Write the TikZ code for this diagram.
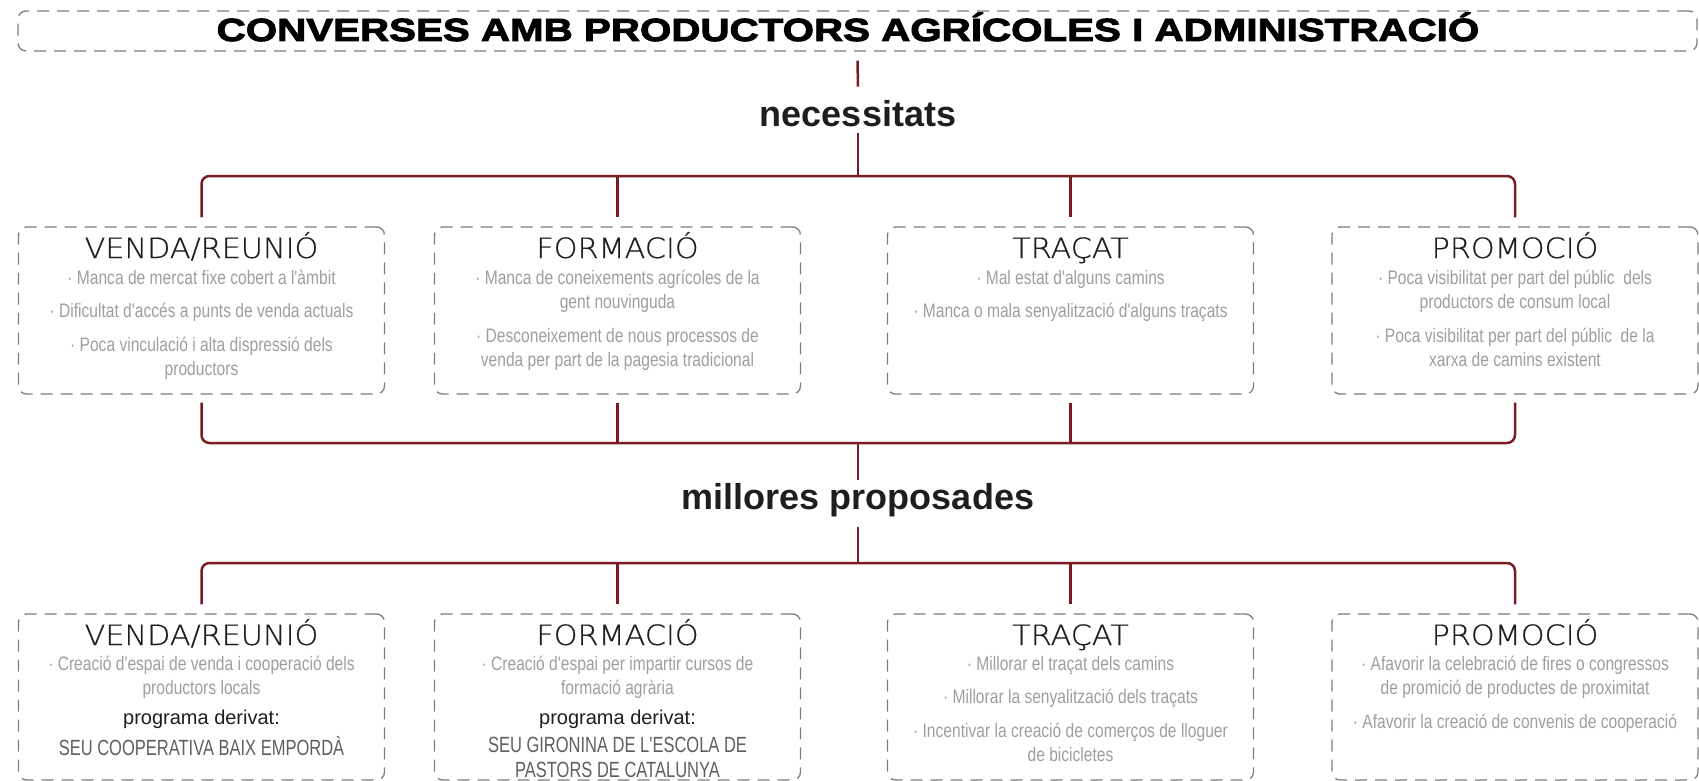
\documentclass[tikz,border=0pt]{standalone}
\usepackage{fontspec}
\setmainfont{Liberation Sans}
\newfontfamily\condf[FakeStretch=0.8]{Liberation Sans}
\newfontfamily\seuf[FakeStretch=0.75]{Liberation Sans}
\newfontfamily\heavyf[FakeStretch=1.26,FakeBold=3]{Liberation Sans Bold}
\newfontfamily\boldf{Liberation Sans Bold}
\IfFontExistsTF{DejaVu Sans ExtraLight}{\newfontfamily\lightf[FakeStretch=1.08,FakeBold=0.6]{DejaVu Sans ExtraLight}}{\newfontfamily\lightf[FakeStretch=1.08]{Liberation Sans}}
\definecolor{conncol}{RGB}{122,28,34}
\definecolor{boxgray}{RGB}{125,125,125}
\definecolor{hdrcol}{RGB}{30,30,30}
\definecolor{bodycol}{RGB}{158,158,158}
\definecolor{seucol}{RGB}{95,95,95}
\begin{document}
\begin{tikzpicture}[x=1pt,y=-1pt,
  conn/.style={draw=conncol, line width=2.5pt},
  dbox/.style={draw=boxgray, line width=1.3pt, dash pattern=on 12pt off 8pt, rounded corners=8pt, inner sep=0pt},
  rowbox/.style={dbox, minimum width=366pt, minimum height=167pt},
  ttlf/.style={font=\heavyf\fontsize{32}{34}\selectfont, text=black, anchor=base, inner sep=0pt},
  secf/.style={font=\boldf\fontsize{36}{40}\selectfont, text=hdrcol, anchor=base, inner sep=0pt},
  hdr/.style={font=\lightf\fontsize{28}{30}\selectfont, text=hdrcol, anchor=base, inner sep=0pt},
  body/.style={font=\condf\fontsize{19.5}{24.5}\selectfont, text=bodycol, align=center, anchor=north, inner sep=0pt},
  prog/.style={font=\fontsize{20}{24}\selectfont, text=hdrcol, anchor=base, inner sep=0pt},
  seu/.style={font=\seuf\fontsize{22}{25}\selectfont, text=seucol, align=center, anchor=north, inner sep=0pt}
]
\useasboundingbox (0,0) rectangle (1699,781);

% title
\node[dbox, minimum width=1679pt, minimum height=40pt] (title) at (857.5,31) {};
\node[ttlf] (ttl) at (848,41) {CONVERSES AMB PRODUCTORS AGRÍCOLES I ADMINISTRACIÓ};

\node[secf] (nec) at (858,127) {necessitats};
\node[secf] (mil) at (858,509) {millores proposades};

\coordinate (bar1) at (858,176);
\coordinate (bar2) at (858,443);
\coordinate (bar3) at (858,563);

% row 1 boxes
\node[rowbox] (v1) at (201.5,310.5) {};
\node[rowbox] (f1) at (617.5,310.5) {};
\node[rowbox] (t1) at (1070.5,310.5) {};
\node[rowbox] (p1) at (1515,310.5) {};
% row 2 boxes
\node[rowbox, minimum height=166pt] (v2) at (201.5,697) {};
\node[rowbox, minimum height=166pt] (f2) at (617.5,697) {};
\node[rowbox, minimum height=166pt] (t2) at (1070.5,697) {};
\node[rowbox, minimum height=166pt] (p2) at (1515,697) {};

% connectors
\draw[conn] ([yshift=-9pt]title.south) -- ([yshift=14pt]nec.north);
\draw[conn] ([yshift=-5pt]nec.south) -- (bar1);
\draw[conn, rounded corners=8pt] ([yshift=9pt]v1.north) |- (bar1) -| ([yshift=9pt]p1.north);
\draw[conn] ([yshift=9pt]f1.north) -- (f1.north |- bar1);
\draw[conn] ([yshift=9pt]t1.north) -- (t1.north |- bar1);

\draw[conn, rounded corners=8pt] ([yshift=-8pt]v1.south) |- (bar2) -| ([yshift=-8pt]p1.south);
\draw[conn] ([yshift=-8pt]f1.south) -- (f1.south |- bar2);
\draw[conn] ([yshift=-8pt]t1.south) -- (t1.south |- bar2);
\draw[conn] (bar2) -- ([yshift=3pt]mil.north);
\draw[conn] ([yshift=-10pt]mil.south) -- (bar3);

\draw[conn, rounded corners=8pt] ([yshift=9pt]v2.north) |- (bar3) -| ([yshift=9pt]p2.north);
\draw[conn] ([yshift=9pt]f2.north) -- (f2.north |- bar3);
\draw[conn] ([yshift=9pt]t2.north) -- (t2.north |- bar3);

% row 1 texts
\node[hdr] (v1h) at (201.5,258) {VENDA/REUNIÓ};
\node[hdr] (f1h) at (617.5,258) {FORMACIÓ};
\node[hdr] (t1h) at (1070.5,258) {TRAÇAT};
\node[hdr] (p1h) at (1515,258) {PROMOCIÓ};

\node[body] (v1b) at (201.5,268) {\rule{0pt}{16pt}· Manca de mercat fixe cobert a l'àmbit\\[9pt]
  · Dificultat d'accés a punts de venda actuals\\[9pt]
  · Poca vinculació i alta dispressió dels\\productors};
\node[body] (f1b) at (617.5,268) {\rule{0pt}{16pt}· Manca de coneixements agrícoles de la\\gent nouvinguda\\[9pt]
  · Desconeixement de nous processos de\\venda per part de la pagesia tradicional};
\node[body] (t1b) at (1070.5,268) {\rule{0pt}{16pt}· Mal estat d'alguns camins\\[9pt]
  · Manca o mala senyalització d'alguns traçats};
\node[body] (p1b) at (1515,268) {\rule{0pt}{16pt}· Poca visibilitat per part del públic~ dels\\productors de consum local\\[9pt]
  · Poca visibilitat per part del públic~ de la\\xarxa de camins existent};

% row 2 texts
\node[hdr] (v2h) at (201.5,645) {VENDA/REUNIÓ};
\node[hdr] (f2h) at (617.5,645) {FORMACIÓ};
\node[hdr] (t2h) at (1070.5,645) {TRAÇAT};
\node[hdr] (p2h) at (1515,645) {PROMOCIÓ};

\node[body] (v2b) at (201.5,654) {\rule{0pt}{16pt}· Creació d'espai de venda i cooperació dels\\productors locals};
\node[prog] (v2p) at (201.5,724) {programa derivat:};
\node[seu] (v2s) at (201.5,736) {\rule{0pt}{16pt}SEU COOPERATIVA BAIX EMPORDÀ};

\node[body] (f2b) at (617.5,654) {\rule{0pt}{16pt}· Creació d'espai per impartir cursos de\\formació agrària};
\node[prog] (f2p) at (617.5,724) {programa derivat:};
\node[seu] (f2s) at (617.5,736) {\rule{0pt}{16pt}SEU GIRONINA DE L'ESCOLA DE\\PASTORS DE CATALUNYA};

\node[body] (t2b) at (1070.5,654) {\rule{0pt}{16pt}· Millorar el traçat dels camins\\[9pt]
  · Millorar la senyalització dels traçats\\[9pt]
  · Incentivar la creació de comerços de lloguer\\de bicicletes};

\node[body] (p2b) at (1515,654) {\rule{0pt}{16pt}· Afavorir la celebració de fires o congressos\\de promició de productes de proximitat\\[9pt]
  · Afavorir la creació de convenis de cooperació};
\end{tikzpicture}
\end{document}
